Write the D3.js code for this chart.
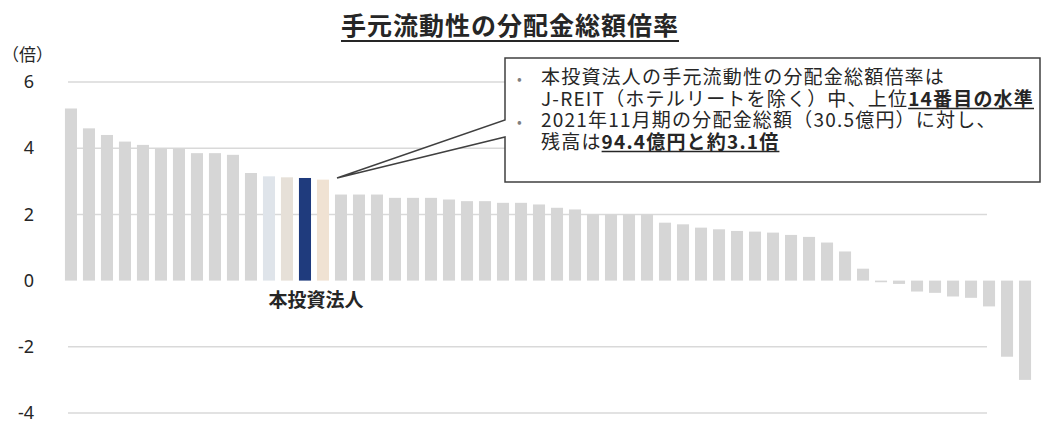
<!DOCTYPE html>
<html>
<head>
<meta charset="utf-8">
<script src="https://cdn.jsdelivr.net/npm/d3@7"></script>
<style>
  body { margin: 0; background: #fff; }
  svg { display: block; font-family: "Noto Sans CJK JP", "Noto Sans", sans-serif; }
</style>
</head>
<body>
<div id="chart"></div>
<script>
// data (J-REIT, sorted desc)
var reits = d3.range(1, 55);
var ratios = [5.2, 4.6, 4.4, 4.2, 4.1, 4.0, 4.0, 3.85, 3.85, 3.8,
  3.25, 3.15, 3.12, 3.1, 3.05, 2.6, 2.6, 2.6, 2.5, 2.5,
  2.5, 2.45, 2.4, 2.4, 2.35, 2.35, 2.3, 2.2, 2.15, 2.0,
  2.0, 2.0, 2.0, 1.75, 1.7, 1.6, 1.55, 1.5, 1.48, 1.45,
  1.38, 1.32, 1.15, 0.88, 0.36, -0.05, -0.1, -0.33, -0.37, -0.48,
  -0.52, -0.78, -2.3, -3.0];
var ownIndex = 14; // 本投資法人
var tintedBars = {12: "#dfe4ea", 13: "#e6e0d8", 15: "#f0e2d3"};
var yTicks = [-4, -2, 0, 2, 4, 6];
var gridTicks = [-4, -2, 2, 4, 6];

var titleText = "手元流動性の分配金総額倍率";
var unitText = "（倍）";
var ownLabel = "本投資法人";

var width = 1046, height = 425;

var svg = d3.select("#chart").append("svg")
  .attr("width", width)
  .attr("height", height);

var x = d3.scaleBand()
  .domain(reits)
  .range([59, 1037])
  .padding(0.33);

var y = d3.scaleLinear()
  .domain([-4, 6])
  .range([413, 82]);

// gridlines
svg.append("g")
  .selectAll("line")
  .data(gridTicks)
  .enter()
  .append("line")
  .attr("x1", 68)
  .attr("x2", 987)
  .attr("y1", function (d) { return y(d); })
  .attr("y2", function (d) { return y(d); })
  .attr("stroke", "#d9d9d9")
  .attr("stroke-width", 1.5);

// y axis labels
var yAxis = svg.append("g")
  .attr("transform", "translate(34,0)")
  .call(d3.axisLeft(y).tickValues(yTicks).tickSize(0).tickPadding(0)
    .tickFormat(function (d) { return String(d); }));
yAxis.select(".domain").remove();
yAxis.selectAll("text")
  .style("font-family", "Noto Sans, sans-serif")
  .style("font-size", "18px")
  .attr("fill", "#262626");

svg.append("text")
  .attr("x", 2)
  .attr("y", 61)
  .style("font-size", "17px")
  .attr("fill", "#262626")
  .text(unitText);

// bars
svg.append("g")
  .selectAll("rect")
  .data(ratios)
  .enter()
  .append("rect")
  .attr("x", function (d, i) { return x(reits[i]); })
  .attr("width", x.bandwidth())
  .attr("y", function (d) { return y(Math.max(0, d)); })
  .attr("height", function (d) { return Math.abs(y(d) - y(0)); })
  .attr("fill", function (d, i) {
    var n = reits[i];
    if (n === ownIndex) return "#1f3b7d";
    return tintedBars[n] || "#d6d6d6";
  });

// label under own bar
svg.append("text")
  .attr("x", x(ownIndex) + x.bandwidth() / 2 + 11)
  .attr("y", 307)
  .attr("text-anchor", "middle")
  .style("font-size", "19px")
  .style("font-weight", "bold")
  .attr("fill", "#262626")
  .text(ownLabel);

// title
var title = svg.append("text")
  .attr("x", 510)
  .attr("y", 35)
  .attr("text-anchor", "middle")
  .style("font-size", "25px")
  .style("font-weight", "bold")
  .style("letter-spacing", "1px")
  .attr("fill", "#262626")
  .text(titleText);
var tb = title.node().getBBox();
svg.append("line")
  .attr("x1", tb.x).attr("x2", tb.x + tb.width)
  .attr("y1", 41).attr("y2", 41)
  .attr("stroke", "#262626")
  .attr("stroke-width", 2);

// callout box pointing at own bar
var tipX = x(ownIndex) + x.bandwidth() + 26, tipY = y(3.1);
svg.append("path")
  .attr("d", "M505,58 H1040 V182 H505 V137 L" + tipX + "," + tipY + " L505,120 Z")
  .attr("fill", "#fff")
  .attr("stroke", "#404040")
  .attr("stroke-width", 1.5);

var lines = [
  {bullet: true, parts: [{t: "本投資法人の手元流動性の分配金総額倍率は"}]},
  {bullet: false, parts: [{t: "J-REIT（ホテルリートを除く）中、上位"}, {t: "14番目の水準", b: true}]},
  {bullet: true, parts: [{t: "2021年11月期の分配金総額（30.5億円）に対し、"}]},
  {bullet: false, parts: [{t: "残高は"}, {t: "94.4億円と約3.1倍", b: true}]}
];

lines.forEach(function (l, i) {
  var ly = 84 + i * 21.5;
  if (l.bullet) {
    svg.append("text")
      .attr("x", 517)
      .attr("y", ly)
      .style("font-size", "14px")
      .attr("fill", "#7f7f7f")
      .text("•");
  }
  var cx = 541;
  l.parts.forEach(function (p) {
    var t = svg.append("text")
      .attr("x", cx)
      .attr("y", ly)
      .style("font-size", "19px")
      .style("letter-spacing", "1.2px")
      .attr("fill", "#262626")
      .text(p.t);
    if (p.b) t.style("font-weight", "bold");
    var w = t.node().getComputedTextLength();
    if (p.b) {
      svg.append("line")
        .attr("x1", cx).attr("x2", cx + w)
        .attr("y1", ly + 3).attr("y2", ly + 3)
        .attr("stroke", "#262626")
        .attr("stroke-width", 1.5);
    }
    cx += w;
  });
});
</script>
</body>
</html>
